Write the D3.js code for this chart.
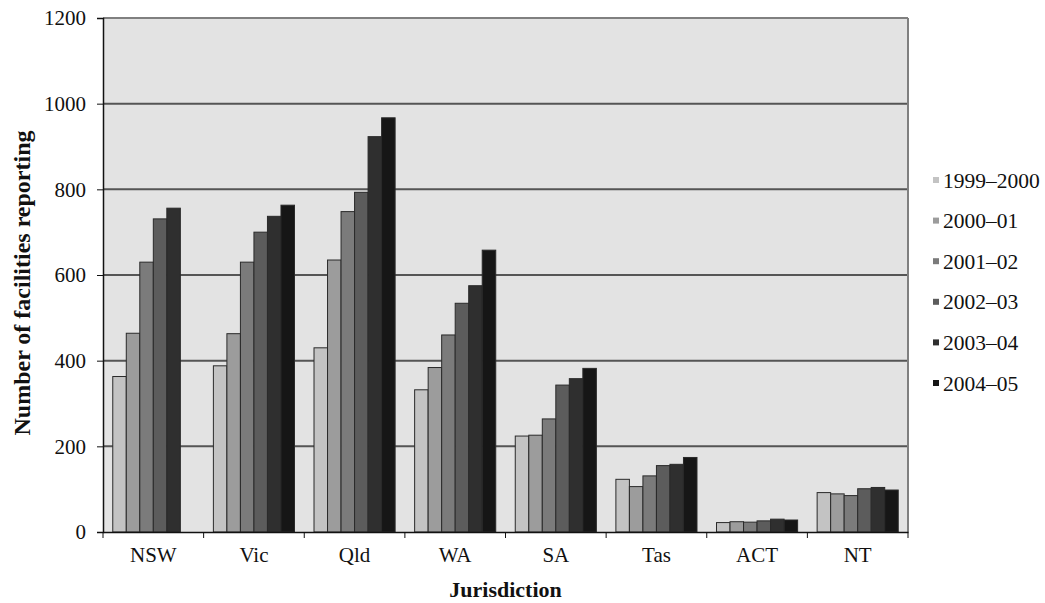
<!DOCTYPE html>
<html><head><meta charset="utf-8">
<script src="https://cdn.jsdelivr.net/npm/d3@7"></script>
<style>
html,body{margin:0;padding:0;background:#fff;}
</style></head>
<body>
<svg id="chart" width="1045" height="603"></svg>
<script>
const categories = ["NSW","Vic","Qld","WA","SA","Tas","ACT","NT"];
const seriesNames = ["1999\u20132000","2000\u201301","2001\u201302","2002\u201303","2003\u201304","2004\u201305"];
const s1999 = [363, 388, 430, 332, 224, 123, 22, 92];
const s2000 = [464, 463, 635, 384, 226, 106, 24, 89];
const s2001 = [630, 630, 748, 460, 264, 131, 23, 85];
const s2002 = [731, 700, 793, 534, 343, 155, 26, 101];
const s2003 = [756, 737, 923, 575, 358, 158, 30, 104];
const s2004 = [null, 763, 967, 658, 382, 174, 28, 98];
const seriesValues = [s1999, s2000, s2001, s2002, s2003, s2004];
const seriesColors = ["#c3c3c3","#9c9c9c","#7b7b7b","#5c5c5c","#2f2f2f","#161616"];
const yTicks = [0,200,400,600,800,1000,1200];

const FONT = "'Liberation Serif', 'Times New Roman', serif";
const svg = d3.select("#chart");
const L = 103, R = 908, T = 18, B = 532;

const x0 = d3.scaleBand().domain(categories).range([L, R]).padding(0);
const bw = x0.bandwidth();
const x1 = d3.scaleBand().domain(seriesNames).range([bw*0.097, bw*0.903]).padding(0);
const y = d3.scaleLinear().domain([0,1200]).range([B, T]);

// plot background
svg.append("rect").attr("x", L).attr("y", T).attr("width", R-L).attr("height", B-T).attr("fill", "#e3e3e3");

// gridlines
svg.append("g").selectAll("line").data(yTicks.filter(d=>d>0)).join("line")
  .attr("x1", L).attr("x2", R).attr("y1", d=>y(d)).attr("y2", d=>y(d))
  .attr("stroke", d=> d===1200 ? "#808080" : "#555").attr("stroke-width", 2);

// right border
svg.append("line").attr("x1", R).attr("x2", R).attr("y1", T).attr("y2", B).attr("stroke", "#808080").attr("stroke-width", 2);

// bars
const groups = svg.append("g").selectAll("g").data(seriesNames).join("g")
  .attr("fill", (d,i)=>seriesColors[i]);
groups.each(function(name, si){
  const vals = seriesValues[si];
  d3.select(this).selectAll("rect")
    .data(categories.map((c,ci)=>({c, v: vals[ci]})).filter(d=>d.v!=null))
    .join("rect")
    .attr("x", d=>x0(d.c)+x1(name))
    .attr("width", x1.bandwidth())
    .attr("y", d=>y(d.v))
    .attr("height", d=>B - y(d.v))
    .attr("stroke", "#2a2a2a").attr("stroke-width", 1);
});

// y axis
const yAxis = d3.axisLeft(y).tickValues(yTicks).tickSize(6).tickPadding(11).tickFormat(d3.format("d"));
const ga = svg.append("g").attr("transform", `translate(${L},0)`).call(yAxis).attr("font-family", null);
ga.select(".domain").attr("stroke", "#111").attr("stroke-width", 1.5);
ga.selectAll(".tick line").attr("stroke", "#111");
ga.selectAll("text").style("font-family", FONT).style("font-size", "21px").attr("fill", "#111");

// x axis
const xAxis = d3.axisBottom(x0).tickSize(0).tickPadding(13);
const gx = svg.append("g").attr("transform", `translate(0,${B})`).call(xAxis).attr("font-family", null);
gx.select(".domain").attr("stroke", "#111").attr("stroke-width", 1.5);
gx.selectAll(".tick text").style("font-family", FONT).style("font-size", "21px").attr("fill", "#111").attr("y", 30).attr("dy", 0);
// boundary ticks
const bounds = categories.map(c=>x0(c)).concat([R]);
gx.append("g").selectAll("line").data(bounds).join("line")
  .attr("x1", d=>d).attr("x2", d=>d).attr("y1", 0).attr("y2", 6).attr("stroke", "#111");

// axis titles
svg.append("text").attr("x", (L+R)/2).attr("y", 597).attr("text-anchor", "middle")
  .style("font-family", FONT).style("font-size", "22px").style("font-weight", "bold").attr("fill", "#111").text("Jurisdiction");
svg.append("text").attr("transform", `translate(30,283) rotate(-90)`).attr("text-anchor", "middle")
  .style("font-family", FONT).style("font-size", "24px").style("font-weight", "bold").attr("fill", "#111").text("Number of facilities reporting");

// legend
const lg = svg.append("g").selectAll("g").data(seriesNames).join("g")
  .attr("transform", (d,i)=>`translate(933,${180 + i*40.6})`);
lg.append("rect").attr("x", 0).attr("y", -3).attr("width", 6).attr("height", 6).attr("fill", (d,i)=>seriesColors[i]);
lg.append("text").attr("x", 10).attr("y", 0).attr("dy", "0.35em")
  .style("font-family", FONT).style("font-size", "21.5px").attr("fill", "#111").text(d=>d);
</script>
</body></html>
